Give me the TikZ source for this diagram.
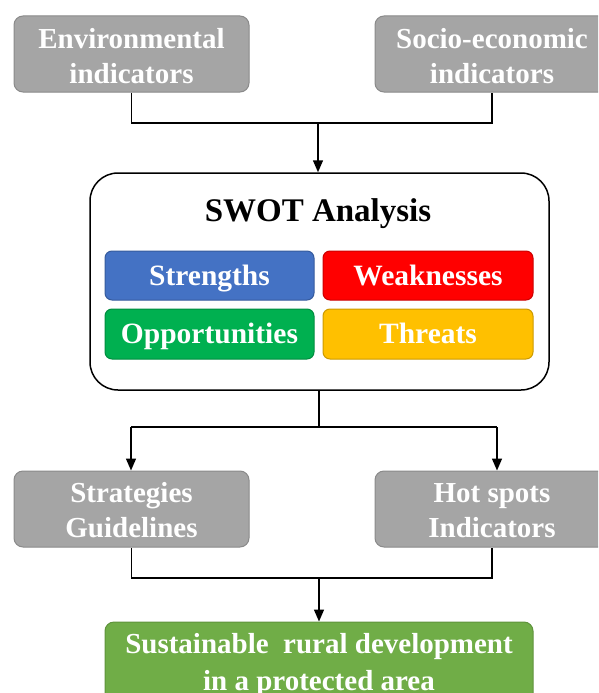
\documentclass[tikz,border=0pt]{standalone}
\usepackage{fontspec}
\setmainfont{Liberation Serif}
\usetikzlibrary{arrows.meta}
\definecolor{greyfill}{HTML}{A5A5A5}
\definecolor{greyedge}{HTML}{8A8A8A}
\definecolor{sblue}{HTML}{4472C4}
\definecolor{sred}{HTML}{FF0000}
\definecolor{sgreen}{HTML}{00B050}
\definecolor{syellow}{HTML}{FFC000}
\definecolor{lgreen}{HTML}{70AD47}
\tikzset{
  greybox/.style={draw=greyedge, fill=greyfill, line width=1pt, rounded corners=9pt,
    minimum height=76pt, align=center, text=white, inner sep=0pt,
    font=\fontsize{29}{35}\selectfont\bfseries},
  cell/.style={line width=1pt, rounded corners=7pt, inner sep=0pt, text=white,
    text height=19.5pt, text depth=0pt,
    font=\fontsize{29.5}{34}\selectfont\bfseries},
  conn/.style={line width=1.5pt, black},
  arr/.style={conn, -{Triangle[width=10pt,length=12pt]}},
}
\begin{document}
\begin{tikzpicture}[x=1pt,y=-1pt]
\useasboundingbox (0,0) rectangle (598,693);
\clip (0,0) rectangle (598,693);
% top boxes
\node[greybox, minimum width=235pt] (env) at (131.5,54) {\rule{0pt}{24pt}Environmental\\indicators};
\node[greybox, minimum width=234pt] (soc) at (492,54) {\rule{0pt}{24pt}Socio-economic\\indicators};
% SWOT
\node[draw=black, line width=1.5pt, rounded corners=28pt, fill=white,
  minimum width=459pt, minimum height=217pt] (swot) at (319.5,281.5) {};
\node[font=\fontsize{33}{38}\selectfont\bfseries] (title) at (318,214) {SWOT Analysis};
\node[cell, draw=sblue!80!black, fill=sblue, minimum width=209pt, minimum height=49pt] (s) at (209.5,275.5) {Strengths};
\node[cell, draw=sred!80!black, fill=sred, minimum width=210pt, minimum height=49pt] (w) at (428,275.5) {Weaknesses};
\node[cell, draw=sgreen!80!black, fill=sgreen, minimum width=209pt, minimum height=50pt] (o) at (209.5,334) {Opportunities};
\node[cell, draw=syellow!80!black, fill=syellow, minimum width=210pt, minimum height=50pt] (t) at (428,334) {Threats};
% lower boxes
\node[greybox, minimum width=235pt] (strat) at (131.5,509) {\rule{0pt}{22pt}Strategies\\Guidelines};
\node[greybox, minimum width=234pt] (hot) at (492,509) {\rule{0pt}{22pt}Hot spots\\Indicators};
\node[draw=lgreen!85!black, fill=lgreen, line width=1pt, rounded corners=9pt,
  minimum width=428pt, minimum height=80pt, align=center, text=white, inner sep=0pt,
  font=\fontsize{29}{37}\selectfont\bfseries] (goal) at (319,662) {\rule{0pt}{26pt}Sustainable\ \ rural development\\in a protected area};
% junction coordinates
\coordinate (j1) at (318,123);
\coordinate (j2) at (319,427);
\coordinate (jl) at (131,427);
\coordinate (jr) at (497,427);
\coordinate (j3) at (319,578);
% connectors
\draw[conn] (env.south) |- (j1) -| (soc.south);
\draw[arr] (j1) -- (j1 |- swot.north);
\draw[conn] (j2 |- swot.south) -- (j2);
\draw[conn] (jl) -- (jr);
\draw[arr] (jl) -- (jl |- strat.north);
\draw[arr] (jr) -- (jr |- hot.north);
\draw[conn] (strat.south) |- (j3) -| (hot.south);
\draw[arr] (j3) -- (j3 |- goal.north);
\end{tikzpicture}
\end{document}
